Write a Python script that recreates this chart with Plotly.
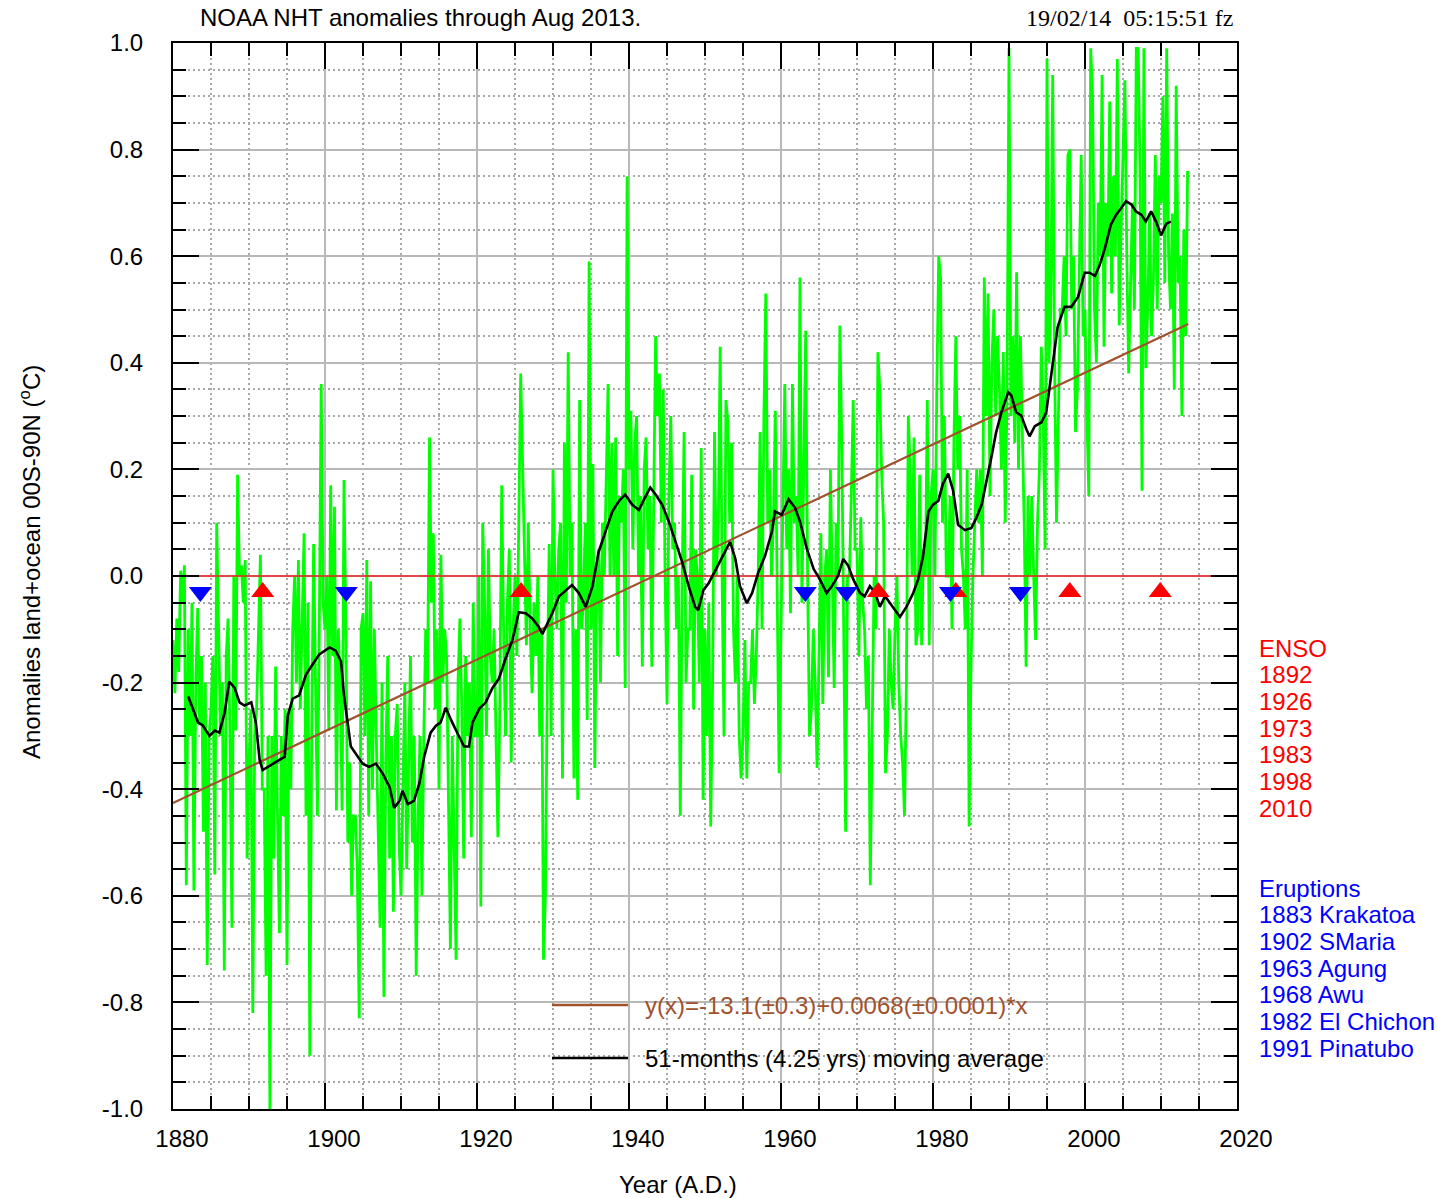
import plotly.graph_objects as go

# ---------------- data ----------------
green_start_year = 1880.0
green_per_year = 4  # values per year
green_values = [
    -0.12, -0.22, -0.08, -0.18,   # 1880
    0.01, -0.05, 0.02, -0.58,     # 1881
    -0.10, -0.30, -0.05, -0.59,   # 1882
    -0.20, -0.06, -0.28, -0.15,   # 1883
    -0.48, -0.20, -0.73, -0.30,   # 1884
    -0.25, -0.15, -0.56, 0.10,    # 1885
    -0.10, -0.30, -0.20, -0.74,   # 1886
    -0.15, -0.08, -0.30, -0.66,   # 1887
    0.00, -0.29, 0.19, 0.00,      # 1888
    0.02, -0.05, 0.03, -0.53,     # 1889
    -0.35, -0.25, -0.82, -0.30,   # 1890
    -0.25, -0.10, 0.04, -0.40,    # 1891
    -0.40, -0.75, -0.30, -1.00,   # 1892
    -0.30, -0.53, -0.17, -0.45,   # 1893
    -0.67, -0.30, -0.45, -0.25,   # 1894
    -0.73, -0.25, -0.40, -0.10,   # 1895
    0.00, -0.20, 0.03, -0.25,     # 1896
    -0.10, 0.08, -0.45, -0.05,    # 1897
    -0.90, -0.30, 0.06, -0.20,    # 1898
    -0.45, -0.10, 0.36, -0.05,    # 1899
    -0.10, 0.00, -0.29, 0.17,     # 1900
    -0.15, 0.13, -0.44, -0.10,    # 1901
    -0.20, -0.44, 0.18, -0.10,    # 1902
    -0.50, -0.35, -0.60, -0.45,   # 1903
    -0.45, -0.55, -0.83, -0.10,   # 1904
    -0.07, -0.30, 0.03, -0.45,    # 1905
    -0.01, -0.40, -0.10, -0.30,   # 1906
    -0.50, -0.66, -0.20, -0.79,   # 1907
    -0.35, -0.15, -0.53, -0.30,   # 1908
    -0.63, -0.30, -0.24, -0.50,   # 1909
    -0.60, -0.40, -0.20, -0.55,   # 1910
    -0.35, -0.15, -0.50, -0.30,   # 1911
    -0.75, -0.45, -0.30, -0.60,   # 1912
    -0.30, -0.10, -0.20, 0.26,    # 1913
    -0.05, 0.08, -0.25, -0.10,    # 1914
    -0.40, 0.04, -0.20, -0.10,    # 1915
    -0.15, -0.40, -0.70, -0.30,   # 1916
    -0.50, -0.72, -0.20, -0.08,   # 1917
    -0.25, -0.53, -0.15, -0.30,   # 1918
    -0.20, -0.49, -0.05, -0.30,   # 1919
    -0.30, 0.00, -0.62, 0.10,     # 1920
    -0.05, -0.30, 0.05, -0.15,    # 1921
    -0.20, -0.10, -0.30, -0.49,   # 1922
    -0.25, 0.17, -0.10, -0.30,    # 1923
    -0.05, 0.05, -0.35, -0.10,    # 1924
    0.00, -0.15, 0.10, 0.38,      # 1925
    0.21, 0.00, -0.13, 0.10,      # 1926
    -0.10, -0.22, -0.05, -0.15,   # 1927
    0.00, -0.30, -0.10, -0.72,    # 1928
    -0.60, -0.20, 0.06, -0.30,    # 1929
    0.20, 0.00, -0.10, 0.05,      # 1930
    0.10, -0.38, 0.25, -0.05,     # 1931
    0.42, 0.00, 0.10, -0.38,      # 1932
    -0.10, -0.42, 0.33, -0.10,    # 1933
    -0.05, 0.10, -0.27, 0.59,     # 1934
    -0.10, 0.21, -0.36, 0.00,     # 1935
    0.05, -0.20, 0.10, 0.00,      # 1936
    0.20, 0.36, 0.00, 0.25,       # 1937
    0.00, 0.26, -0.15, 0.15,      # 1938
    0.10, 0.20, -0.21, 0.75,      # 1939
    0.20, 0.31, 0.05, 0.25,       # 1940
    0.30, 0.00, 0.15, -0.17,      # 1941
    0.20, 0.26, 0.05, 0.15,       # 1942
    -0.17, 0.20, 0.45, 0.30,      # 1943
    0.38, 0.10, 0.35, 0.00,       # 1944
    -0.24, 0.15, 0.30, 0.05,      # 1945
    0.10, -0.10, 0.00, -0.45,     # 1946
    0.00, 0.27, -0.20, -0.10,     # 1947
    -0.10, 0.19, -0.25, 0.05,     # 1948
    0.00, -0.20, 0.24, -0.42,     # 1949
    -0.10, -0.30, -0.05, -0.47,   # 1950
    -0.20, 0.27, 0.00, 0.10,      # 1951
    0.43, 0.00, -0.30, 0.33,      # 1952
    0.29, 0.10, 0.25, -0.10,      # 1953
    -0.20, 0.00, -0.30, -0.38,    # 1954
    -0.30, -0.12, -0.38, -0.20,   # 1955
    -0.20, -0.10, -0.24, -0.15,   # 1956
    0.00, 0.27, -0.10, 0.30,      # 1957
    0.53, 0.10, 0.20, 0.00,       # 1958
    0.10, 0.31, 0.00, -0.37,      # 1959
    -0.10, 0.10, 0.36, 0.05,      # 1960
    0.20, -0.07, 0.36, 0.10,      # 1961
    0.15, 0.00, 0.56, -0.05,      # 1962
    0.20, 0.46, 0.00, -0.30,      # 1963
    -0.25, -0.10, -0.20, -0.36,   # 1964
    -0.15, 0.08, -0.24, 0.00,     # 1965
    0.05, -0.19, 0.20, -0.05,     # 1966
    -0.21, 0.10, 0.00, 0.47,      # 1967
    0.25, -0.10, -0.48, 0.00,     # 1968
    0.00, 0.15, 0.33, 0.05,       # 1969
    0.05, -0.15, 0.11, -0.05,     # 1970
    -0.10, -0.25, -0.15, -0.58,   # 1971
    -0.30, 0.00, -0.10, 0.42,     # 1972
    0.35, 0.19, 0.10, -0.37,      # 1973
    -0.30, -0.10, -0.20, -0.25,   # 1974
    -0.10, 0.00, -0.20, -0.30,    # 1975
    -0.35, -0.45, -0.20, 0.30,    # 1976
    0.20, 0.00, 0.26, -0.13,      # 1977
    -0.10, 0.19, -0.13, 0.05,     # 1978
    0.00, 0.33, -0.13, 0.15,      # 1979
    0.20, 0.00, 0.35, 0.60,       # 1980
    0.56, 0.10, 0.30, 0.00,       # 1981
    0.00, 0.15, -0.10, 0.25,      # 1982
    0.45, 0.20, 0.30, 0.05,       # 1983
    0.00, -0.10, 0.20, -0.47,     # 1984
    -0.17, 0.00, 0.10, 0.20,      # 1985
    0.10, 0.20, 0.00, 0.56,       # 1986
    0.30, 0.53, 0.15, 0.40,       # 1987
    0.50, 0.30, 0.45, 0.35,       # 1988
    0.20, 0.42, 0.10, 0.35,       # 1989
    0.99, 0.30, 0.45, 0.25,       # 1990
    0.57, 0.20, 0.45, 0.30,       # 1991
    0.10, -0.17, 0.15, 0.00,      # 1992
    0.15, 0.00, -0.12, 0.10,      # 1993
    0.20, 0.43, 0.30, 0.05,       # 1994
    0.97, 0.40, 0.50, 0.94,       # 1995
    0.40, 0.10, 0.30, 0.50,       # 1996
    0.50, 0.60, 0.45, 0.79,       # 1997
    0.80, 0.50, 0.60, 0.27,       # 1998
    0.35, 0.60, 0.79, 0.45,       # 1999
    0.50, 0.30, 0.15, 0.99,       # 2000
    0.90, 0.50, 0.40, 0.70,       # 2001
    0.60, 0.94, 0.43, 0.70,       # 2002
    0.60, 0.89, 0.53, 0.75,       # 2003
    0.60, 0.97, 0.47, 0.65,       # 2004
    0.80, 0.93, 0.60, 0.38,       # 2005
    0.55, 0.70, 0.50, 0.99,       # 2006
    0.99, 0.75, 0.16, 0.99,       # 2007
    0.39, 0.50, 0.68, 0.45,       # 2008
    0.55, 0.79, 0.50, 0.75,       # 2009
    0.70, 0.90, 0.55, 0.99,       # 2010
    0.60, 0.50, 0.68, 0.35,       # 2011
    0.92, 0.55, 0.60, 0.30,       # 2012
    0.65, 0.45, 0.76,             # 2013 (through Aug)
]

ma_years = [
    1882.0, 1883.3, 1883.9, 1884.8, 1885.5, 1886.1, 1886.8, 1887.4, 1888.1, 1888.75,
    1889.4, 1890.3, 1890.9, 1891.4, 1891.8, 1892.5, 1893.1, 1894.0, 1894.7, 1895.1,
    1895.75, 1896.6, 1897.5, 1898.4, 1899.25, 1900.6, 1901.4, 1902.1, 1902.5, 1903.4,
    1904.95, 1905.8, 1906.7, 1907.6, 1908.5, 1909.1, 1909.8, 1910.2, 1910.9, 1911.7,
    1912.4, 1913.05, 1913.9, 1914.6, 1915.2, 1915.9, 1916.55, 1917.4, 1918.3, 1918.95,
    1919.4, 1920.3, 1921.15, 1922.0, 1922.9, 1923.8, 1924.65, 1925.5, 1926.4, 1927.3,
    1928.15, 1928.6, 1929.25, 1929.9, 1930.8, 1931.7, 1932.5, 1933.4, 1934.3, 1935.2,
    1936.0, 1936.9, 1937.8, 1938.7, 1939.5, 1940.4, 1941.3, 1942.2, 1942.8, 1943.5,
    1944.35, 1945.25, 1946.1, 1947.0, 1947.85, 1948.7, 1949.1, 1949.8, 1950.5, 1952.2,
    1953.3, 1954.0, 1954.6, 1955.5, 1956.2, 1957.0, 1957.9, 1958.8, 1959.2, 1960.1,
    1961.0, 1961.85, 1962.5, 1963.4, 1964.3, 1965.1, 1966.0, 1966.7, 1967.5, 1968.2,
    1968.85, 1969.5, 1970.4, 1971.0, 1971.7, 1972.4, 1973.0, 1973.7, 1974.5, 1975.65,
    1976.5, 1977.4, 1978.05, 1978.7, 1979.4, 1980.0, 1980.7, 1981.3, 1982.0, 1982.65,
    1983.3, 1984.2, 1985.05, 1985.7, 1986.4, 1987.0, 1987.7, 1988.3, 1989.0, 1989.9,
    1990.3, 1990.95, 1991.6, 1992.3, 1992.7, 1993.4, 1994.25, 1994.9, 1995.55, 1996.4,
    1997.3, 1998.2, 1999.1, 1999.95, 2000.6, 2001.3, 2001.9, 2002.6, 2003.4, 2004.1,
    2004.8, 2005.4, 2006.1, 2006.7, 2007.4, 2008.0, 2008.7, 2009.35, 2010.0, 2010.7,
    2011.3,
]
ma_values = [
    -0.226, -0.275, -0.280, -0.300, -0.290, -0.294, -0.256, -0.198, -0.210, -0.237,
    -0.243, -0.237, -0.275, -0.345, -0.364, -0.358, -0.352, -0.345, -0.339, -0.262,
    -0.230, -0.224, -0.185, -0.165, -0.147, -0.134, -0.140, -0.160, -0.224, -0.320,
    -0.352, -0.358, -0.352, -0.371, -0.396, -0.435, -0.422, -0.403, -0.428, -0.422,
    -0.390, -0.339, -0.294, -0.281, -0.275, -0.247, -0.269, -0.294, -0.320, -0.320,
    -0.275, -0.249, -0.237, -0.211, -0.192, -0.153, -0.121, -0.068, -0.070, -0.080,
    -0.096, -0.109, -0.090, -0.070, -0.038, -0.026, -0.017, -0.032, -0.058, -0.019,
    0.045, 0.083, 0.121, 0.141, 0.153, 0.134, 0.124, 0.150, 0.166, 0.153,
    0.134, 0.102, 0.064, 0.026, -0.019, -0.058, -0.064, -0.026, -0.013, 0.032,
    0.064, 0.032, -0.019, -0.051, -0.032, 0.006, 0.038, 0.083, 0.121, 0.115,
    0.144, 0.128, 0.102, 0.051, 0.013, -0.006, -0.032, -0.019, 0.000, 0.032,
    0.019, -0.006, -0.032, -0.038, -0.019, -0.032, -0.058, -0.038, -0.055, -0.077,
    -0.058, -0.032, -0.006, 0.038, 0.121, 0.134, 0.141, 0.173, 0.192, 0.160,
    0.096, 0.086, 0.090, 0.109, 0.134, 0.173, 0.224, 0.269, 0.307, 0.345,
    0.339, 0.307, 0.301, 0.275, 0.262, 0.281, 0.288, 0.307, 0.377, 0.467,
    0.505, 0.505, 0.524, 0.569, 0.569, 0.563, 0.582, 0.614, 0.659, 0.678,
    0.691, 0.703, 0.697, 0.684, 0.678, 0.665, 0.684, 0.665, 0.639, 0.661,
    0.665,
]

trend_years = [1880.0, 2013.6]
trend_values = [-0.426, 0.473]

enso_years = [1891.8, 1925.8, 1972.8, 1983.0, 1998.0, 2009.9]
enso_labels = ["1892", "1926", "1973", "1983", "1998", "2010"]
eruption_years = [1883.6, 1902.8, 1963.2, 1968.6, 1982.3, 1991.5]
eruption_labels = ["1883 Krakatoa", "1902 SMaria", "1963 Agung", "1968 Awu",
                   "1982 El Chichon", "1991 Pinatubo"]
event_level = -0.03

x_range = [1880, 2020]
y_range = [-1.0, 1.0]
y_tickvals = [-1.0, -0.8, -0.6, -0.4, -0.2, 0.0, 0.2, 0.4, 0.6, 0.8, 1.0]
y_ticktext = ["%.1f" % v for v in y_tickvals]

# ---------------- figure ----------------
green_time = [green_start_year + i / green_per_year for i in range(len(green_values))]
assert len(ma_years) == len(ma_values)

FONT = "Liberation Sans, Arial, Helvetica, sans-serif"
BROWN = "#a0522d"

fig = go.Figure()
fig.add_trace(go.Scatter(x=green_time, y=green_values, mode="lines",
                         line=dict(color="#00ff00", width=2.8), showlegend=False))
fig.add_trace(go.Scatter(x=x_range, y=[0, 0], mode="lines",
                         line=dict(color="#ee2020", width=1.4), showlegend=False))
fig.add_trace(go.Scatter(x=trend_years, y=trend_values, mode="lines",
                         line=dict(color=BROWN, width=2.2), showlegend=False))
fig.add_trace(go.Scatter(x=ma_years, y=ma_values, mode="lines",
                         line=dict(color="black", width=2.6), showlegend=False))
fig.add_trace(go.Scatter(x=enso_years, y=[event_level] * len(enso_years), mode="markers",
                         marker=dict(symbol="triangle-up", size=20, color="#ff0000"),
                         showlegend=False))
fig.add_trace(go.Scatter(x=eruption_years, y=[event_level] * len(eruption_years), mode="markers",
                         marker=dict(symbol="triangle-down", size=20, color="#0000ff"),
                         showlegend=False))

L, R, T, B = 173, 1237, 43, 1109
W, H = 1437, 1198
PW, PH = R - L, B - T


def px(x):
    return (x - L) / PW


def py(y):
    return (B - y) / PH


axis_common = dict(
    showline=True, linecolor="black", linewidth=2, mirror="allticks",
    ticks="inside", tickcolor="black", tickwidth=2, ticklen=26,
    showgrid=True, gridcolor="#b8b8b8", gridwidth=2, zeroline=False,
    tickfont=dict(family=FONT, size=24, color="black"),
)

fig.update_xaxes(
    range=x_range, tickmode="linear", tick0=1880, dtick=20,
    ticklabelshift=9, ticklabelstandoff=7,
    minor=dict(ticks="inside", ticklen=13, tickwidth=2, tickcolor="black",
               tickmode="linear", tick0=1880, dtick=5,
               showgrid=True, gridcolor="#a8a8a8", gridwidth=1.5, griddash="2px,3px"),
    **axis_common,
)
fig.update_yaxes(
    range=y_range, tickmode="array", tickvals=y_tickvals, ticktext=y_ticktext,
    ticklabelstandoff=23,
    minor=dict(ticks="inside", ticklen=13, tickwidth=2, tickcolor="black",
               tickmode="linear", tick0=0, dtick=0.05,
               showgrid=True, gridcolor="#a8a8a8", gridwidth=1.5, griddash="2px,3px"),
    **axis_common,
)

ann = []
ann.append(dict(text="NOAA NHT anomalies through Aug 2013.", x=px(198), y=py(18),
                xanchor="left", yanchor="middle", font=dict(family=FONT, size=24)))
ann.append(dict(text="19/02/14\u00a0\u00a005:15:51 fz", x=px(1024), y=py(18),
                xanchor="left", yanchor="middle",
                font=dict(family="Liberation Serif, Times New Roman, serif", size=24)))
ann.append(dict(text="Year (A.D.)", x=px(678), y=py(1184), xanchor="center", yanchor="middle",
                font=dict(family=FONT, size=24)))
ann.append(dict(text="Anomalies land+ocean 00S-90N (<sup>o</sup>C)", x=px(30), y=py(562),
                xanchor="center", yanchor="middle", textangle=-90,
                font=dict(family=FONT, size=24)))

line_gap = 26.7
for i, t in enumerate(["ENSO"] + enso_labels):
    ann.append(dict(text=t, x=px(1257), y=py(648 + i * line_gap), xanchor="left",
                    yanchor="middle", font=dict(family=FONT, size=24, color="#ff0000")))
for i, t in enumerate(["Eruptions"] + eruption_labels):
    ann.append(dict(text=t, x=px(1257), y=py(888 + i * line_gap), xanchor="left",
                    yanchor="middle", font=dict(family=FONT, size=24, color="#0000ff")))

ann.append(dict(text="y(x)=-13.1(\u00b10.3)+0.0068(\u00b10.0001)*x", x=px(643), y=py(1005),
                xanchor="left", yanchor="middle", font=dict(family=FONT, size=24, color=BROWN)))
ann.append(dict(text="51-months (4.25 yrs) moving average", x=px(643), y=py(1058),
                xanchor="left", yanchor="middle", font=dict(family=FONT, size=24, color="black")))
for a in ann:
    a.update(xref="paper", yref="paper", showarrow=False)

shapes = [
    dict(type="line", xref="paper", yref="paper", x0=px(552), x1=px(628), y0=py(1005), y1=py(1005),
         line=dict(color=BROWN, width=2.5)),
    dict(type="line", xref="paper", yref="paper", x0=px(552), x1=px(628), y0=py(1058), y1=py(1058),
         line=dict(color="black", width=2.5)),
]

fig.update_layout(
    width=W, height=H, autosize=False,
    margin=dict(l=L, r=W - R, t=T, b=H - B, pad=0),
    paper_bgcolor="white", plot_bgcolor="white",
    annotations=ann, shapes=shapes, showlegend=False,
    font=dict(family=FONT, size=24, color="black"),
)

fig.write_html("out.html", config={"displayModeBar": False},
               post_script="document.body.style.margin='0';")
